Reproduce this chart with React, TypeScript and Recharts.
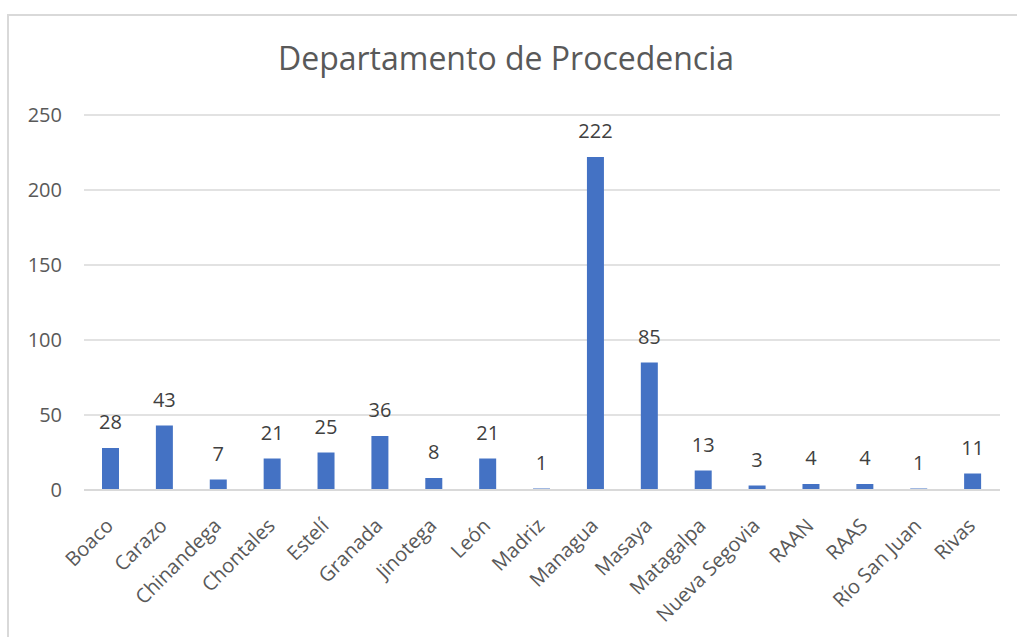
import React from "react";
import { BarChart, Bar, XAxis, YAxis, CartesianGrid, LabelList } from "recharts";

const categories = ["Boaco", "Carazo", "Chinandega", "Chontales", "Estelí", "Granada", "Jinotega", "León", "Madriz", "Managua", "Masaya", "Matagalpa", "Nueva Segovia", "RAAN", "RAAS", "Río San Juan", "Rivas"];
const values = [28, 43, 7, 21, 25, 36, 8, 21, 1, 222, 85, 13, 3, 4, 4, 1, 11];
const yTicks = [0, 50, 100, 150, 200, 250];
const title = "Departamento de Procedencia";

const data = categories.map((name, i) => ({ name, value: values[i] }));

const FONT = "'Open Sans', 'Noto Sans', sans-serif";

const XTick = (props: any) => {
  const { x, y, payload } = props;
  return (
    <g transform={`translate(${x},${y})`}>
      <text x={0} y={0} dx={-18} dy={23} textAnchor="end" transform="rotate(-45)" fill="#595959" fontSize={20} fontFamily={FONT}>
        {payload.value}
      </text>
    </g>
  );
};

export default function App() {
  return (
    <div style={{ position: "absolute", left: 0, top: 0, width: 1017, height: 637, overflow: "hidden", background: "#fff" }}>
      <div style={{ position: "absolute", left: 7, top: 14, width: 1040, height: 660, border: "2px solid #d9d9d9", boxSizing: "border-box" }} />
      <div style={{ position: "absolute", left: 0, top: 36, width: 1012, textAlign: "center", fontFamily: FONT, fontSize: 32, color: "#595959", lineHeight: "44px" }}>
        {title}
      </div>
      <div style={{ position: "absolute", left: 0, top: 0 }}>
        <BarChart width={1017} height={637} data={data} margin={{ top: 115, right: 17, bottom: 0, left: 0 }} barSize={17}>
          <CartesianGrid vertical={false} stroke="#d9d9d9" strokeWidth={1.5} />
          <XAxis dataKey="name" height={147} interval={0} tickLine={false} axisLine={{ stroke: "#d9d9d9", strokeWidth: 2 }} tick={<XTick />} />
          <YAxis width={84} domain={[0, 250]} ticks={yTicks} tickLine={false} axisLine={false} tickMargin={16} tick={{ fill: "#595959", fontSize: 20, fontFamily: FONT }} />
          <Bar dataKey="value" fill="#4472C4" isAnimationActive={false}>
            <LabelList dataKey="value" position="top" offset={19} fill="#404040" fontSize={20} fontFamily={FONT} />
          </Bar>
        </BarChart>
      </div>
    </div>
  );
}
